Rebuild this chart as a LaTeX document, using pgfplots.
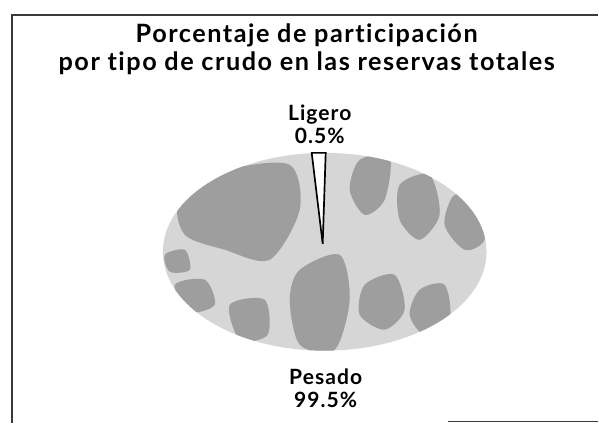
\documentclass[border=0pt]{standalone}
\usepackage{fontspec}
\setmainfont{Lato}[Ligatures=NoCommon]
\usepackage{pgfplots}
\pgfplotsset{compat=1.18}
\definecolor{framec}{HTML}{3A3A3A}
\definecolor{piegray}{HTML}{D6D6D6}
\definecolor{blobgray}{HTML}{9E9E9E}

\begin{document}
\begin{tikzpicture}
\begin{axis}[
  scale only axis, width=15cm, height=10.593cm,
  xmin=0, xmax=599, ymin=0, ymax=423,
  y dir=reverse,
  hide axis, clip=false,
]
% keep the whole canvas in the bounding box
\path (axis cs:0,0) rectangle (axis cs:599,423);

% frame (scan border)
\addplot[framec, line width=0.8pt] coordinates {(12,423) (12,15) (599,15)};
\addplot[framec, line width=0.8pt] coordinates {(448,422) (599,422)};

% Pesado 99.5% : textured slice
\fill[piegray] (axis cs:325,252) ellipse[x radius=162, y radius=99];
\begin{scope}
\clip (axis cs:325,252) ellipse[x radius=162, y radius=99];
\fill[blobgray] plot[smooth cycle] coordinates {(axis cs:180,200) (axis cs:230,170) (axis cs:290,165) (axis cs:300,210) (axis cs:270,260) (axis cs:225,250) (axis cs:185,235)};
\fill[blobgray] plot[smooth cycle] coordinates {(axis cs:300,270) (axis cs:340,255) (axis cs:350,300) (axis cs:335,350) (axis cs:300,345) (axis cs:290,300)};
\fill[blobgray] plot[smooth cycle] coordinates {(axis cs:360,160) (axis cs:390,158) (axis cs:385,200) (axis cs:365,215) (axis cs:350,190)};
\fill[blobgray] plot[smooth cycle] coordinates {(axis cs:400,185) (axis cs:430,175) (axis cs:440,215) (axis cs:420,240) (axis cs:400,220)};
\fill[blobgray] plot[smooth cycle] coordinates {(axis cs:455,195) (axis cs:480,205) (axis cs:485,240) (axis cs:465,250) (axis cs:445,225)};
\fill[blobgray] plot[smooth cycle] coordinates {(axis cs:365,285) (axis cs:395,275) (axis cs:405,310) (axis cs:385,330) (axis cs:360,315)};
\fill[blobgray] plot[smooth cycle] coordinates {(axis cs:420,290) (axis cs:445,285) (axis cs:450,320) (axis cs:425,335) (axis cs:410,315)};
\fill[blobgray] plot[smooth cycle] coordinates {(axis cs:175,285) (axis cs:205,280) (axis cs:215,305) (axis cs:190,312)};
\fill[blobgray] plot[smooth cycle] coordinates {(axis cs:230,305) (axis cs:265,300) (axis cs:268,335) (axis cs:240,340)};
\fill[blobgray] plot[smooth cycle] coordinates {(axis cs:165,255) (axis cs:185,250) (axis cs:190,270) (axis cs:170,272)};
\end{scope}

% Ligero 0.5% : white slice with outline
\addplot[fill=white, draw=black, line width=1.2pt] coordinates {(323,244) (312,153) (326,153)} -- cycle;

% title
\node[font=\fontsize{18}{20}\selectfont\bfseries\addfontfeature{LetterSpace=6}, align=center] at (axis cs:307,49)
  {Porcentaje de participación\\por tipo de crudo en las reservas totales};

% data labels
\node[font=\fontsize{15}{16.5}\selectfont\bfseries\addfontfeature{LetterSpace=5}, align=center] at (axis cs:320,124) {Ligero\\0.5\%};
\node[font=\fontsize{15}{16.5}\selectfont\bfseries\addfontfeature{LetterSpace=5}, align=center] at (axis cs:326,389) {Pesado\\99.5\%};
\end{axis}
\end{tikzpicture}
\end{document}
